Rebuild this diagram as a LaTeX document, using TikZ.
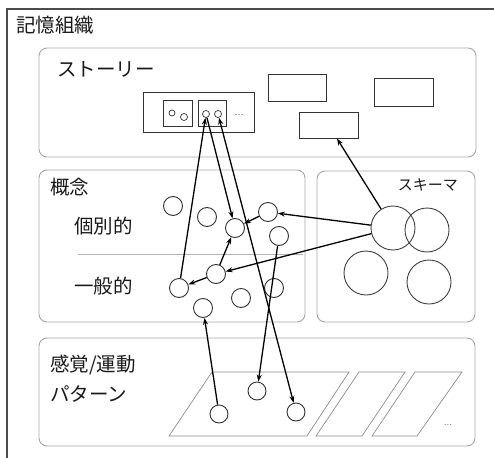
\documentclass[tikz,border=0pt]{standalone}
\usepackage{fontspec}
\newfontfamily\jp{Noto Sans CJK JP}
\usetikzlibrary{arrows.meta}
\begin{document}
\begin{tikzpicture}[x=1pt,y=-1pt,
  grp/.style={draw=black!35, line width=0.9pt, rounded corners=8pt},
  cn/.style={circle, draw=black!80, line width=0.9pt, minimum size=19pt, inner sep=0pt},
  sc/.style={circle, draw=black!75, line width=0.9pt, minimum size=44pt, inner sep=0pt},
  tc/.style={circle, draw=black!80, line width=0.7pt, minimum size=7pt, inner sep=0pt},
  bx/.style={draw=black!80, line width=0.9pt, inner sep=0pt},
  lab/.style={font=\jp\fontsize{19.5}{19.5}\selectfont, text=black!90, inner sep=0pt},
  slab/.style={font=\jp\fontsize{15}{15}\selectfont, text=black!90, inner sep=0pt},
  arr/.style={-{Stealth[length=7pt,width=5pt]}, line width=1.3pt},
  darr/.style={{Stealth[length=7pt,width=5pt]}-{Stealth[length=7pt,width=5pt]}, line width=1.3pt},
  para/.style={draw=black!45, line width=0.7pt},
]
\useasboundingbox (0,0) rectangle (494,457);
\begin{scope}
\clip (0,0) rectangle (494,457);
\draw[black!70, line width=1.1pt] (7,9) rectangle (510,475);
\end{scope}
\node[lab, anchor=west] (title) at (16,25) {記憶組織};

% group boxes
\draw[grp] (39,48) rectangle (476,157);
\draw[grp] (39,170) rectangle (305,322);
\draw[grp] (317,171) rectangle (475,322);
\draw[grp] (39,338) rectangle (475,446);
\draw[draw=black!30, line width=0.9pt] (78,254) -- (303,254);

% labels
\node[lab, anchor=west] (story) at (57,69) {ストーリー};
\node[lab, anchor=west] (gainen) at (50,187) {概念};
\node[lab, anchor=west] (kobetsu) at (74,226) {個別的};
\node[lab, anchor=west] (ippan) at (74,286) {一般的};
\node[slab, anchor=east] (schema) at (458,185) {スキーマ};
\node[lab, anchor=west] (kankaku) at (50,365) {感覚/運動};
\node[lab, anchor=west] (pattern) at (50,394) {パターン};

% story contents
\node[bx, minimum width=111pt, minimum height=40pt] (big) at (198.5,112) {};
\node[bx, minimum width=29pt, minimum height=26pt] (ib1) at (177.5,113) {};
\node[bx, minimum width=28pt, minimum height=26pt] (ib2) at (212,113) {};
\node[tc, minimum size=6pt] (t1) at (172,113) {};
\node[tc] (t2) at (184,117) {};
\node[tc] (t3) at (206,114) {};
\node[tc] (t4) at (218,114) {};
\node[font=\fontsize{11}{11}\selectfont, text=black!75] (sdots) at (239,115) {...};
\node[bx, minimum width=58pt, minimum height=27pt] (ra) at (297,87.5) {};
\node[bx, minimum width=59pt, minimum height=28pt] (rb) at (403.5,92) {};
\node[bx, minimum width=59pt, minimum height=26pt] (rc) at (328.5,125) {};

% concept circles
\node[cn] (c1) at (173,206) {};
\node[cn] (c2) at (207,217) {};
\node[cn] (c3) at (235,228) {};
\node[cn] (c4) at (268,212) {};
\node[cn] (c5) at (279,236) {};
\node[cn] (c6) at (216,274) {};
\node[cn] (c7) at (179,288) {};
\node[cn] (c8) at (274,288) {};
\node[cn] (c9) at (241,298) {};
\node[cn] (c10) at (203,308) {};

% schema circles
\node[sc] (s1) at (393,228) {};
\node[sc] (s2) at (427,230) {};
\node[sc] (s3) at (366,273) {};
\node[sc] (s4) at (429,282) {};

% sensory patterns
\draw[para] (169,436) -- (307,436) -- (349,372) -- (212,372) -- cycle;
\draw[para] (316,436) -- (362,436) -- (405,372) -- (359,372) -- cycle;
\draw[para] (372,436) -- (417,436) -- (462,372) -- (415,372) -- cycle;
\node[font=\fontsize{10}{10}\selectfont, text=black!65] (pdots) at (448,425) {...};
\node[cn, minimum size=18pt] (p1) at (219,414) {};
\node[cn, minimum size=18pt] (p2) at (257,391) {};
\node[cn, minimum size=18pt] (p3) at (296,412) {};

% connectors
\draw[arr] (c7) -- (t3);
\draw[arr] (t3) -- (c3);
\draw[darr] (p3) -- (t4);
\draw[arr] (p1) -- (c10);
\draw[arr] (c5) -- (p2);
\draw[arr] (c6) -- (c3);
\draw[arr] (c6) -- (c7);
\draw[arr] (c4) -- (c3);
\draw[arr] (s1) -- (c4);
\draw[arr] (s1) -- (c6);
\draw[arr] (s1) -- (rc);
\end{tikzpicture}
\end{document}
